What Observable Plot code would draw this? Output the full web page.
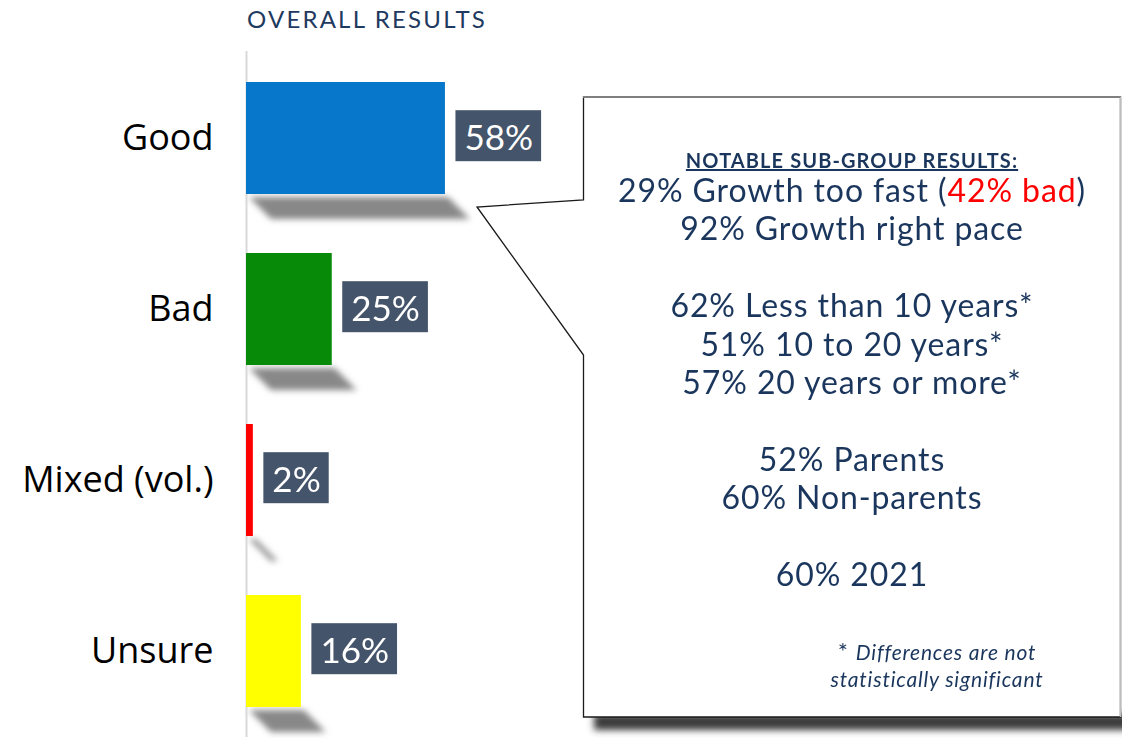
<!DOCTYPE html>
<html>
<head>
<meta charset="utf-8">
<script src="https://cdn.jsdelivr.net/npm/d3@7"></script>
<script src="https://cdn.jsdelivr.net/npm/@observablehq/plot@0.6"></script>
<style>
  html, body { margin: 0; padding: 0; background: #fff; }
  #wrap { position: relative; width: 1122px; height: 738px; overflow: hidden; }
  #title { height: 46px; box-sizing: border-box; padding-left: 247px; padding-top: 4px;
    font-family: Lato, sans-serif; font-size: 24px; letter-spacing: 2.2px; color: #1f3a60; line-height: 30px; }
  #callout { position: absolute; left: 0; top: 0; pointer-events: none; }
  #ctext { position: absolute; left: 583px; width: 538px; top: 145px; text-align: center;
    font-family: Lato, sans-serif; color: #1b365d; }
  #ctext .hdr { font-size: 20px; letter-spacing: 1.1px; font-weight: bold; text-decoration: underline; line-height: 30px; height: 26px; }
  #ctext .ln { font-size: 32px; letter-spacing: 0.9px; line-height: 38.4px; height: 38.4px; white-space: nowrap; }
  #ctext .red { color: #ff0000; }
  #foot { position: absolute; left: 780px; width: 314px; top: 637px; text-align: center;
    font-family: Lato, sans-serif; font-style: italic; font-size: 21px; letter-spacing: 0.8px; line-height: 27px; color: #1b365d; }
  #foot .ast { font-style: normal; font-size: 24px; }
</style>
</head>
<body>
<div id="wrap">
  <div id="title">OVERALL RESULTS</div>
  <div id="chart"></div>
  <svg id="callout" width="1122" height="738">
    <defs>
      <filter id="cshadow" x="-10%" y="-100%" width="120%" height="300%">
        <feGaussianBlur stdDeviation="3.5"/>
      </filter>
    </defs>
    <rect x="594" y="714" width="540" height="16" fill="#3a3a3a" filter="url(#cshadow)"></rect>
    <path d="M583.5,97 H1120.5 V717 H583.5 V355 L477,207 L583.5,200 Z" fill="#fff" stroke="#1a1a1a" stroke-width="1.3"></path>
    <line x1="583" y1="97" x2="1121" y2="97" stroke="#7f7f7f" stroke-width="2.2"></line>
    <line x1="1120.5" y1="97" x2="1120.5" y2="717" stroke="#bdbdbd" stroke-width="1.5"></line>
  </svg>
  <div id="ctext"></div>
  <div id="foot"></div>
</div>
<script>
// ---- data ----
const categories = ["Good", "Bad", "Mixed (vol.)", "Unsure"];
const values = [58, 25, 2, 16];
const barColors = ["#0777cb", "#078a07", "#ff0000", "#ffff00"];
const valueLabels = ["58%", "25%", "2%", "16%"];

const calloutHeader = "NOTABLE SUB-GROUP RESULTS:";
const calloutLines = [
  ["29% Growth too fast (", "42% bad", ")"],
  ["92% Growth right pace"],
  [""],
  ["62% Less than 10 years*"],
  ["51% 10 to 20 years*"],
  ["57% 20 years or more*"],
  [""],
  ["52% Parents"],
  ["60% Non-parents"],
  [""],
  ["60% 2021"]
];
const footnoteLines = ["Differences are not", "statistically significant"];

const data = categories.map((c, i) => ({category: c, value: values[i], color: barColors[i], label: valueLabels[i]}));

// ---- chart ----
const chart = Plot.plot({
  width: 1122,
  height: 692,
  marginLeft: 246,
  marginRight: 533,
  marginTop: 5,
  marginBottom: 1,
  style: {fontFamily: "'Open Sans', sans-serif", fontSize: "36px", color: "#000", background: "transparent"},
  x: {domain: [0, 100], axis: null},
  y: {domain: categories, paddingInner: 0.346, paddingOuter: 0.173, label: null, tickSize: 0, tickPadding: 33},
  color: {type: "identity"},
  marks: [
    Plot.barX(data, {y: "category", x: "value", fill: "#888", insetTop: 90, dy: 25, dx: 3}),
    Plot.ruleX([0], {stroke: "#d9d9d9", strokeWidth: 2}),
    Plot.barX(data, {y: "category", x: "value", fill: "color"}),
    Plot.text(data, {y: "category", x: "value", text: "label", textAnchor: "start", dx: 19,
      fill: "#fff", fontSize: 35, fontFamily: "Lato, sans-serif"})
  ]
});
document.getElementById("chart").appendChild(chart);

// shadows: blur + skew
const svg = d3.select(chart);
const defs = svg.insert("defs", ":first-child");
defs.append("filter").attr("id", "barshadow").attr("x", "-20%").attr("y", "-100%").attr("width", "140%").attr("height", "300%")
  .append("feGaussianBlur").attr("stdDeviation", 3.4);
const shadowG = svg.select('g[aria-label="bar"]');
shadowG.attr("filter", "url(#barshadow)");
shadowG.selectAll("rect").each(function() {
  const r = d3.select(this);
  const x = +r.attr("x"), y = +r.attr("y");
  r.attr("transform", `translate(${x},${y}) skewX(45) translate(${-x},${-y})`);
});

// label boxes
const textG = svg.select('g[aria-label="text"]');
textG.selectAll("text").each(function() {
  const bb = this.getBBox();
  const cy = bb.y + bb.height / 2;
  d3.select(this.parentNode).insert("rect", () => this)
    .attr("x", bb.x - 9).attr("y", cy - 25.5)
    .attr("width", bb.width + 17).attr("height", 51)
    .attr("fill", "#44546a")
    .attr("transform", this.getAttribute("transform"));
});

// callout text
const ct = d3.select("#ctext");
ct.append("div").attr("class", "hdr").text(calloutHeader);
calloutLines.forEach(parts => {
  const d = ct.append("div").attr("class", "ln");
  if (parts.length === 1) d.text(parts[0] || "\u00a0");
  else {
    d.append("span").text(parts[0]);
    d.append("span").attr("class", "red").text(parts[1]);
    d.append("span").text(parts[2]);
  }
});
const ft = d3.select("#foot");
footnoteLines.forEach((l, i) => {
  const d = ft.append("div");
  if (i === 0) { d.append("span").attr("class", "ast").text("* "); }
  d.append("span").text(l);
});
</script>
</body>
</html>
